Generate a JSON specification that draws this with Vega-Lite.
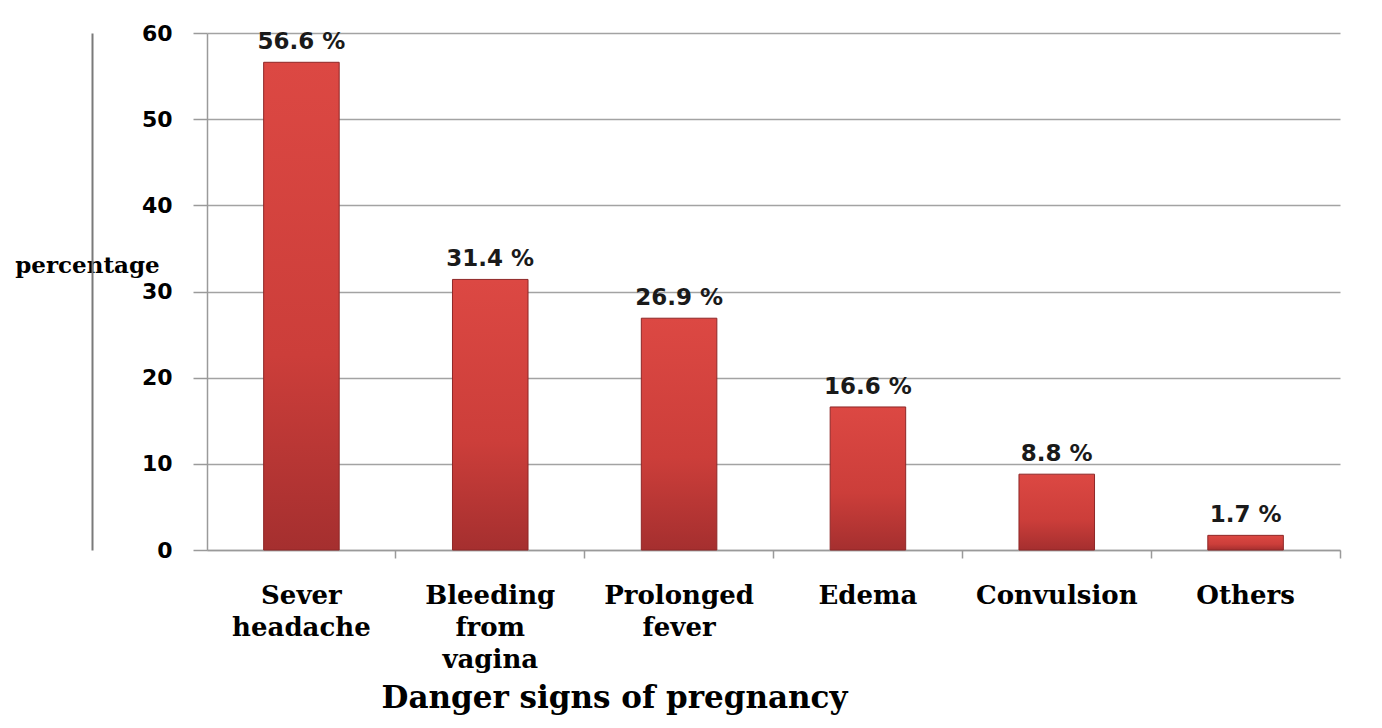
{
  "$schema": "https://vega.github.io/schema/vega-lite/v6.json",
  "width": 1133,
  "height": 517,
  "autosize": {"type": "none"},
  "padding": {"left": 207, "top": 33, "right": 42, "bottom": 178},
  "background": "white",
  "data": {
    "values": [
      {"sign": "Sever headache", "pct": 56.6, "label": "56.6 %"},
      {"sign": "Bleeding from vagina", "pct": 31.4, "label": "31.4 %"},
      {"sign": "Prolonged fever", "pct": 26.9, "label": "26.9 %"},
      {"sign": "Edema", "pct": 16.6, "label": "16.6 %"},
      {"sign": "Convulsion", "pct": 8.8, "label": "8.8 %"},
      {"sign": "Others", "pct": 1.7, "label": "1.7 %"}
    ]
  },
  "encoding": {
    "x": {
      "field": "sign",
      "type": "nominal",
      "sort": null,
      "scale": {"paddingInner": 0.6, "paddingOuter": 0.3},
      "axis": {
        "title": "Danger signs of pregnancy",
        "labelAngle": 0,
        "labelExpr": "split(datum.label, ' ')",
        "labelFont": "DejaVu Serif",
        "labelFontWeight": "bold",
        "labelFontSize": 26,
        "labelColor": "#000000",
        "labelLineHeight": 32,
        "labelPadding": 24,
        "bandPosition": 1.75,
        "tickSize": 8,
        "tickColor": "#9a9a9a",
        "tickWidth": 1.5,
        "domainColor": "#9a9a9a",
        "domainWidth": 1.5,
        "grid": false,
        "titleFont": "DejaVu Serif",
        "titleFontWeight": "bold",
        "titleFontSize": 31,
        "titleColor": "#000000",
        "titleX": 407,
        "titleY": 157,
        "titleAlign": "center",
        "titleBaseline": "alphabetic"
      }
    }
  },
  "layer": [
    {
      "mark": {
        "type": "bar",
        "color": {
          "gradient": "linear",
          "x1": 0, "y1": 0, "x2": 0, "y2": 1,
          "stops": [
            {"offset": 0, "color": "#dc4843"},
            {"offset": 0.6, "color": "#cc3e3a"},
            {"offset": 1, "color": "#a52f2f"}
          ]
        },
        "stroke": "#8e2727",
        "strokeWidth": 1
      },
      "encoding": {
        "y": {
          "field": "pct",
          "type": "quantitative",
          "scale": {"domain": [0, 60], "nice": false},
          "axis": {
            "values": [0, 10, 20, 30, 40, 50, 60],
            "title": "percentage",
            "titleAngle": 0,
            "titleX": -120,
            "titleY": 239,
            "titleAlign": "center",
            "titleBaseline": "alphabetic",
            "titleFont": "DejaVu Serif",
            "titleFontWeight": "bold",
            "titleFontSize": 23,
            "titleColor": "#000000",
            "labelFont": "DejaVu Sans",
            "labelFontWeight": "bold",
            "labelFontSize": 22,
            "labelColor": "#000000",
            "labelPadding": 21,
            "tickSize": 14,
            "tickColor": "#9a9a9a",
            "tickWidth": 1.5,
            "domainColor": "#9a9a9a",
            "domainWidth": 1.5,
            "grid": true,
            "gridColor": "#a3a3a3",
            "gridWidth": 1.5
          }
        }
      }
    },
    {
      "mark": {
        "type": "text",
        "baseline": "alphabetic",
        "align": "center",
        "dy": -13,
        "font": "DejaVu Sans",
        "fontWeight": "bold",
        "fontSize": 23,
        "color": "#1a1a1a"
      },
      "encoding": {
        "y": {
          "field": "pct",
          "type": "quantitative",
          "scale": {"domain": [0, 60], "nice": false},
          "axis": {
            "orient": "left",
            "offset": 115,
            "title": null,
            "labels": false,
            "ticks": false,
            "grid": false,
            "domainColor": "#7a7a7a",
            "domainWidth": 2
          }
        },
        "text": {"field": "label", "type": "nominal"}
      }
    }
  ],
  "resolve": {"scale": {"y": "independent"}, "axis": {"y": "independent"}},
  "config": {
    "view": {"stroke": null}
  }
}
